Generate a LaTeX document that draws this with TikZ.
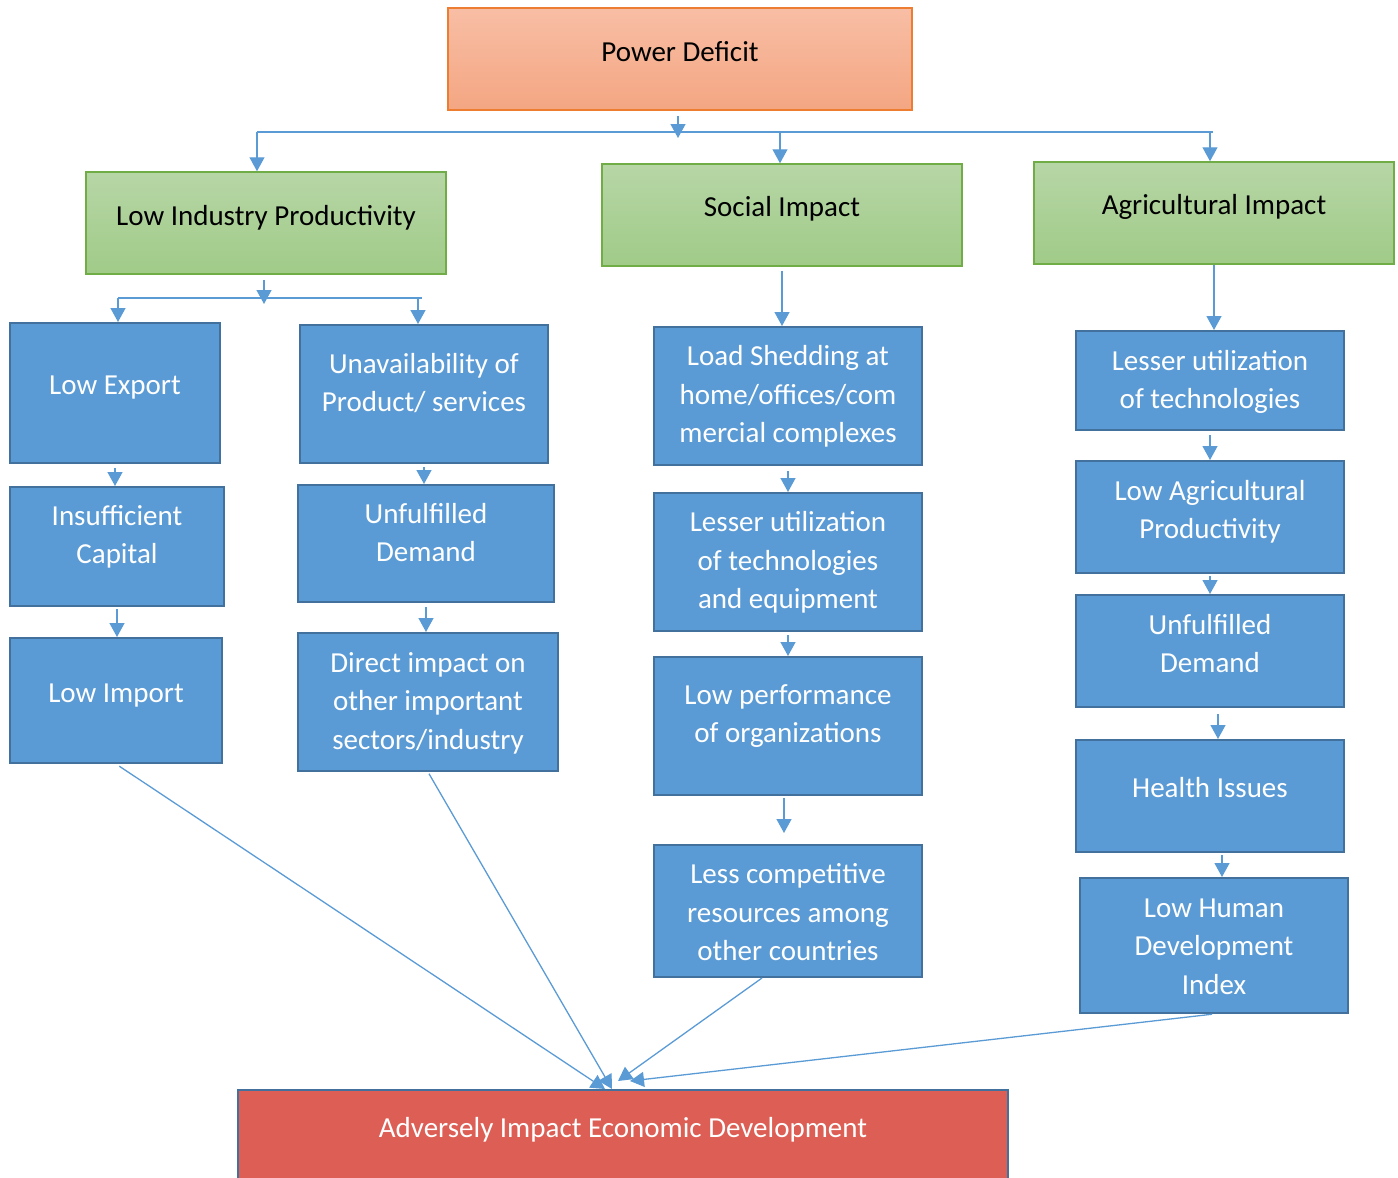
\documentclass[tikz,border=0pt]{standalone}
\usepackage{fontspec}
\setmainfont{Carlito}
\usetikzlibrary{arrows.meta}

\definecolor{flowblue}{RGB}{91,155,213}
\definecolor{edgeblue}{RGB}{65,113,156}
\definecolor{pdtop}{RGB}{248,190,165}
\definecolor{pdbot}{RGB}{244,166,130}
\definecolor{pdedge}{RGB}{237,125,49}
\definecolor{grtop}{RGB}{183,214,166}
\definecolor{grbot}{RGB}{160,203,136}
\definecolor{gredge}{RGB}{112,173,71}
\definecolor{advred}{RGB}{221,94,84}

\tikzset{
  orangebox/.style={draw=pdedge, line width=1.5pt, top color=pdtop, bottom color=pdbot, inner sep=0pt},
  greenbox/.style={draw=gredge, line width=1.5pt, top color=grtop, bottom color=grbot, inner sep=0pt},
  bluebox/.style={draw=edgeblue, line width=2pt, fill=flowblue, inner sep=0pt},
  redbox/.style={draw=edgeblue, line width=2pt, fill=advred, inner sep=0pt},
  basetext/.style={align=center, inner sep=0pt, yshift=-4.5pt, font=\fontsize{29}{38.5}\selectfont,
    execute at begin node=\strut, execute at end node=\strut},
  orangetext/.style={basetext, text=black},
  greentext/.style={basetext, text=black},
  bluetext/.style={basetext, text=white},
  redtext/.style={basetext, text=white},
  bus/.style={draw=flowblue, line width=1.3pt},
  flow/.style={bus, -{Triangle[width=15pt,length=14pt]}},
}

% box from (x1,y1) to (x2,y2), text centred at height ty
\newcommand{\flowbox}[8]{%
  \pgfmathsetmacro{\bw}{#5-#3}\pgfmathsetmacro{\bh}{#6-#4}%
  \node[#1box, minimum width=\bw pt, minimum height=\bh pt] (#2) at ({(#3+#5)/2},{(#4+#6)/2}) {};
  \node[#1text] (#2-t) at ({(#3+#5)/2},#7) {#8};%
}

\begin{document}
\begin{tikzpicture}[x=1pt, y=-1pt]
  \useasboundingbox (0,0) rectangle (1398,1178);
  \clip (0,0) rectangle (1398,1178);

  % top
  \flowbox{orange}{pd}{448}{8}{912}{110}{49}{Power Deficit}

  % impact areas
  \flowbox{green}{lip}{86}{172}{446}{274}{213}{Low Industry Productivity}
  \flowbox{green}{social}{602}{164}{962}{266}{204}{Social Impact}
  \flowbox{green}{agri}{1034}{162}{1394}{264}{202}{Agricultural Impact}

  % industry
  \flowbox{blue}{lowexp}{10}{323}{220}{463}{382}{Low Export}
  \flowbox{blue}{insuff}{10}{487}{224}{606}{535.5}{Insufficient\\Capital}
  \flowbox{blue}{lowimp}{10}{638}{222}{763}{690}{Low Import}
  \flowbox{blue}{unavail}{300}{325}{548}{463}{383.5}{Unavailability of\\Product/ services}
  \flowbox{blue}{unful}{298}{485}{554}{602}{533.5}{Unfulfilled\\Demand}
  \flowbox{blue}{direct}{298}{633}{558}{771}{702}{Direct impact on\\other important\\sectors/industry}

  % social
  \flowbox{blue}{load}{654}{327}{922}{465}{395.5}{Load Shedding at\\home/offices/com\\mercial complexes}
  \flowbox{blue}{lesser}{654}{493}{922}{631}{561.5}{Lesser utilization\\of technologies\\and equipment}
  \flowbox{blue}{lowperf}{654}{657}{922}{795}{715}{Low performance\\of organizations}
  \flowbox{blue}{lesscomp}{654}{845}{922}{977}{913.5}{Less competitive\\resources among\\other countries}

  % agriculture
  \flowbox{blue}{lessagri}{1076}{331}{1344}{430}{380.5}{Lesser utilization\\of technologies}
  \flowbox{blue}{lowagri}{1076}{461}{1344}{573}{510.5}{Low Agricultural\\Productivity}
  \flowbox{blue}{unfulagri}{1076}{595}{1344}{707}{644.5}{Unfulfilled\\Demand}
  \flowbox{blue}{health}{1076}{740}{1344}{852}{785}{Health Issues}
  \flowbox{blue}{lowhdi}{1080}{878}{1348}{1013}{947.5}{Low Human\\Development\\Index}

  % result
  \flowbox{red}{adv}{238}{1090}{1008}{1200}{1125}{Adversely Impact Economic Development}

  % main bus
  \coordinate (bus-l) at (257,132);
  \coordinate (bus-r) at (1213,132);
  \coordinate (bus-m) at (678,138);
  \coordinate (bus-s) at (780,132);
  \coordinate (bus-a) at (1210,132);
  \draw[bus] (bus-l) -- (bus-r);
  \draw[flow] ([yshift=-5pt]pd.south -| bus-m) -- (bus-m);
  \draw[flow] (bus-l) -- (bus-l |- lip.north);
  \draw[flow] (bus-s) -- (bus-s |- social.north);
  \draw[flow] (bus-a) -- (bus-a |- agri.north);

  % industry bus
  \coordinate (sub-l) at (118,298);
  \coordinate (sub-r) at (422,298);
  \coordinate (sub-m) at (264,304);
  \coordinate (sub-d) at (418,298);
  \draw[bus] (sub-l) -- (sub-r);
  \draw[flow] ([yshift=-5pt]lip.south -| sub-m) -- (sub-m);
  \draw[flow] (sub-l) -- (sub-l |- lowexp.north);
  \draw[flow] (sub-d) -- (sub-d |- unavail.north);

  % chains
  \draw[flow, shorten <=4pt] (lowexp.south) -- (lowexp.south |- insuff.north);
  \draw[flow, shorten <=2pt] (insuff.south) -- (insuff.south |- lowimp.north);
  \draw[flow, shorten <=3pt] (unavail.south) -- (unavail.south |- unful.north);
  \draw[flow, shorten <=4pt] (unful.south) -- (unful.south |- direct.north);

  \draw[flow, shorten <=4pt] (social.south) -- (social.south |- load.north);
  \draw[flow, shorten <=5pt] (load.south) -- (load.south |- lesser.north);
  \draw[flow, shorten <=3pt] (lesser.south) -- (lesser.south |- lowperf.north);
  \coordinate (perf-end) at (784,833);
  \draw[flow, shorten <=2pt] (lowperf.south -| perf-end) -- (perf-end);

  \draw[flow] (agri.south) -- (agri.south |- lessagri.north);
  \draw[flow, shorten <=4pt] (lessagri.south) -- (lessagri.south |- lowagri.north);
  \draw[flow, shorten <=2pt] (lowagri.south) -- (lowagri.south |- unfulagri.north);
  \draw[flow, shorten <=6pt] ([xshift=8pt]unfulagri.south) -- ([xshift=8pt]unfulagri.south |- health.north);
  \draw[flow, shorten <=2pt] ([xshift=12pt]health.south) -- ([xshift=12pt]health.south |- lowhdi.north);

  % into the result
  \draw[flow, shorten <=4pt] (lowimp.south) -- ([xshift=-18pt]adv.north);
  \draw[flow, shorten <=2pt] (direct.south) -- ([xshift=-11pt]adv.north);
  \draw[flow] ([xshift=-26pt]lesscomp.south) -- ([xshift=-5pt,yshift=8pt]adv.north);
  \draw[flow, shorten <=2pt] (lowhdi.south) -- ([xshift=7pt,yshift=8pt]adv.north);
\end{tikzpicture}
\end{document}
